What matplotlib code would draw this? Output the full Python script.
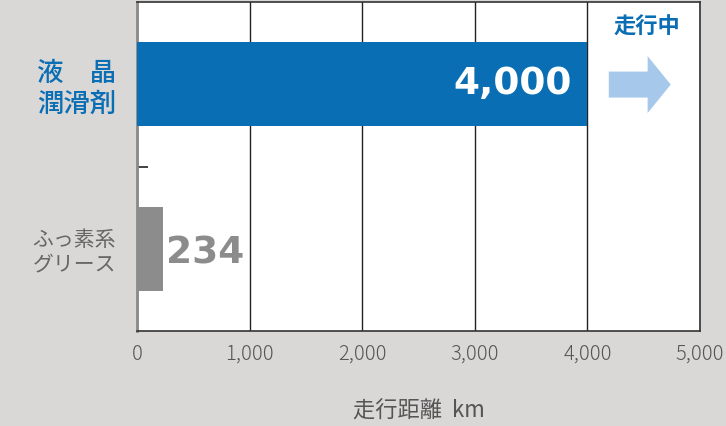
import matplotlib.pyplot as plt
from matplotlib.patches import FancyArrow
from matplotlib.ticker import FuncFormatter

plt.rcParams["font.family"] = ["Noto Sans CJK JP", "DejaVu Sans"]

# data
categories = ["ふっ素系\nグリース", "液　晶\n潤滑剤"]
distances = [234, 4000]
value_labels = ["234", "4,000"]
x_ticks = [0, 1000, 2000, 3000, 4000, 5000]

BLUE = "#0a6eb4"
GRAY_BAR = "#8c8c8c"
BG = "#dad7d7"

fig = plt.figure(figsize=(7.26, 4.26), dpi=100, facecolor=BG)
ax = fig.add_axes([137 / 726, 1 - 331 / 426, 563 / 726, 329 / 426])
ax.set_facecolor("white")

ypos = list(range(len(categories)))
bar_colors = [GRAY_BAR, BLUE]
ax.barh(ypos, distances, height=0.51, color=bar_colors, zorder=3)

ax.set_xlim(0, 5000)
ax.set_ylim(-0.5, 1.5)

# vertical grid
ax.set_xticks(x_ticks)
ax.xaxis.set_major_formatter(FuncFormatter(lambda v, p: f"{int(v):,}"))
ax.grid(axis="x", color="#222222", linewidth=1.0, zorder=1)
ax.tick_params(axis="x", length=0, pad=9, labelsize=14.5, labelcolor="#555555")
for lbl in ax.get_xticklabels():
    lbl.set_fontweight("light")

# y labels
ax.set_yticks(ypos)
ax.set_yticklabels(categories)
ax.tick_params(axis="y", length=0, pad=15)
ylabels = ax.get_yticklabels()
ylabels[0].set_color("#666666")
ylabels[0].set_fontsize(15)
ylabels[0].set_linespacing(1.1)
ylabels[1].set_color(BLUE)
ylabels[1].set_fontsize(19)
ylabels[1].set_fontweight("medium")
ylabels[1].set_linespacing(1.15)

# small inward tick between categories
ax.set_yticks([0.5], minor=True)
ax.tick_params(axis="y", which="minor", direction="in", length=8, width=1.2, color="#222222")

for s in ["top", "right", "bottom"]:
    ax.spines[s].set_color("#333333")
    ax.spines[s].set_linewidth(1.2)
ax.spines["left"].set_color("#8a8a8a")
ax.spines["left"].set_linewidth(2)

# value labels
num_font = ["DejaVu Sans"]
ax.text(distances[1] - 140, ypos[1], value_labels[1], ha="right", va="center",
        color="white", fontsize=27, fontweight="bold", family=num_font, zorder=4)
ax.text(distances[0] + 20, ypos[0] - 0.03, value_labels[0], ha="left", va="center",
        color="#8c8c8c", fontsize=27, fontweight="bold", family=num_font, zorder=4)

# "running" marker with arrow
ax.text(0.906, 0.922, "走行中", transform=ax.transAxes, ha="center", va="center",
        color=BLUE, fontsize=16, fontweight="bold")
arrow = FancyArrow(0.838, 0.749, 0.110, 0, width=0.079, head_width=0.173,
                   head_length=0.041, length_includes_head=True,
                   transform=ax.transAxes, color="#a6c8ea", lw=0, zorder=4)
ax.add_patch(arrow)

ax.set_xlabel("走行距離  km", fontsize=16, color="#555555", labelpad=25)

fig.savefig("out.png", dpi=100, facecolor=BG)
